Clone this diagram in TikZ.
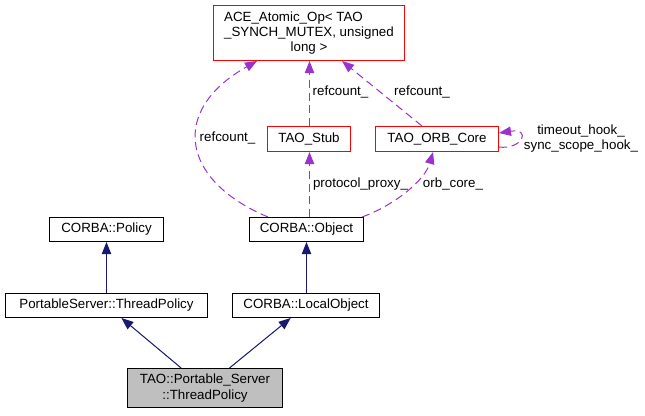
\documentclass[tikz,border=0pt]{standalone}
\usepackage{fontspec}
\usepackage{calc}
\setmainfont{Liberation Sans}
\usetikzlibrary{arrows.meta,calc}
\definecolor{navy}{HTML}{191970}
\definecolor{purp}{HTML}{9A32CD}
\definecolor{redb}{HTML}{FF0000}
\definecolor{grayf}{HTML}{BFBFBF}
\begin{document}
\begin{tikzpicture}[x=0.75pt,y=-0.75pt,
  font=\fontsize{10}{11.5}\selectfont,
  box/.style={draw=black,line width=0.75pt,fill=white,inner sep=0pt,align=center},
  redbox/.style={box,draw=redb},
  inh/.style={draw=navy,line width=0.75pt,-{Triangle[length=9pt,width=7pt]},fill=navy},
  usage/.style={draw=purp,line width=0.75pt,dash pattern=on 6pt off 3.5pt,-{Triangle[length=9pt,width=7pt,fill=purp]}},
  lbl/.style={inner sep=0pt,align=center}]
\useasboundingbox (0,0) rectangle (645,415);
% nodes
\node[redbox,minimum width=143.25pt,minimum height=41.25pt] (ace) at (309,33)
  {\makebox[\widthof{\_SYNCH\_MUTEX, unsigned}][l]{ACE\_Atomic\_Op< TAO}\\\_SYNCH\_MUTEX, unsigned\\long >};
\node[redbox,minimum width=62.25pt,minimum height=18.75pt] (stub) at (309,139) {TAO\_Stub};
\node[redbox,minimum width=92.25pt,minimum height=18.75pt] (orb) at (437,139) {TAO\_ORB\_Core};
\node[box,minimum width=85.5pt,minimum height=18pt] (obj) at (306.5,229.5) {CORBA::Object};
\node[box,minimum width=85.5pt,minimum height=18pt] (policy) at (106.5,229.5) {CORBA::Policy};
\node[box,minimum width=151.5pt,minimum height=18pt] (pstp) at (106.5,305.5) {PortableServer::ThreadPolicy};
\node[box,minimum width=110.25pt,minimum height=18pt] (lo) at (306,305.5) {CORBA::LocalObject};
\node[box,fill=grayf,minimum width=116.25pt,minimum height=29.25pt] (tp) at (205,388) {TAO::Portable\_Server\\::ThreadPolicy};
% inheritance
\draw[inh] (pstp) -- (policy);
\draw[inh] (obj.south |- lo.north) -- (obj.south);
\draw[inh] (tp) -- (pstp);
\draw[inh] (tp) -- (lo);
% usage
\draw[usage] ($(obj.north)+(-38.5,0)$) .. controls (180,180) and (170,110) .. ($(ace.south)+(-52,0)$);
\draw[usage] ($(stub.north)+(0.5,0)$) -- ($(ace.south)+(0.5,0)$);
\draw[usage] ($(orb.north)+(-15,0)$) -- ($(ace.south)+(33,0)$);
\draw[usage] ($(obj.north)+(3,0)$) -- ($(stub.south)+(0.5,0)$);
\draw[usage] ($(obj.north)+(55.5,0)$) .. controls (395,205) and (425,180) .. ($(orb.south)+(-4,0)$);
\draw[usage] ($(orb.east)+(0,8)$) .. controls (522,150) and (532,128) .. ($(orb.east)+(0,-6)$);
% labels
\node[lbl] (l1) at (227.5,138) {refcount\_};
\node[lbl] (l2) at (340.5,92) {refcount\_};
\node[lbl] (l3) at (422,92) {refcount\_};
\node[lbl] (l4) at (360.5,184) {protocol\_proxy\_};
\node[lbl] (l5) at (453,184) {orb\_core\_};
\node[lbl] (l6) at (581,138.5) {timeout\_hook\_\\sync\_scope\_hook\_};
\end{tikzpicture}
\end{document}
